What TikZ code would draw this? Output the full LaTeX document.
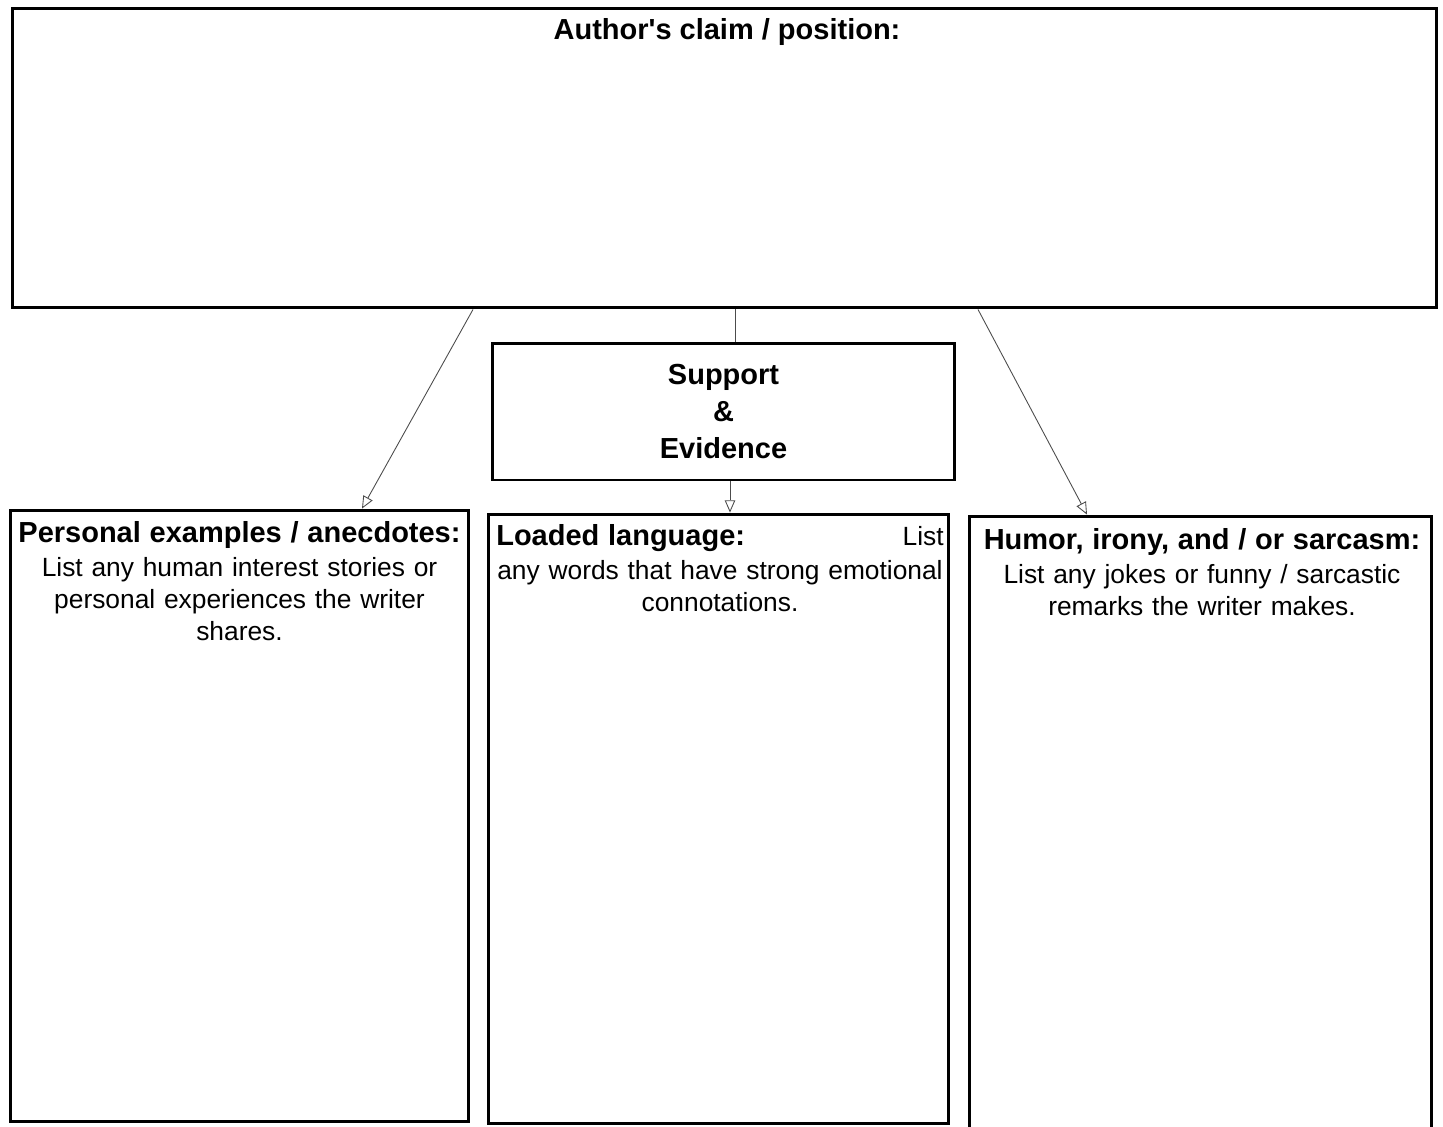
\documentclass[tikz,border=0pt]{standalone}
\usepackage{fontspec}
\usepackage{tikz}
\usetikzlibrary{arrows.meta}
\newfontfamily\chartfont{Liberation Sans}

\begin{document}
\begin{tikzpicture}[x=0.02cm, y=-0.02cm, font=\chartfont,
    box/.style={draw, line width=1.7pt, inner sep=0pt},
    link/.style={gray!60!black, line width=0.5pt},
    tip/.style={-{Triangle[open, length=7pt, width=6pt]}},
    head/.style={font=\chartfont\fontsize{16.5}{21}\selectfont\bfseries},
    body/.style={font=\chartfont\fontsize{15}{18.2}\selectfont, align=center, inner sep=0pt, anchor=north}]
    \useasboundingbox[fill=white] (0,0) rectangle (1443,1126);

    % boxes
    \node (claim) at (724.5,158) [box, minimum width=28.5cm, minimum height=6cm] {};
    \node (support) at (723.5,411.5) [box, head, align=center, minimum width=9.26cm, minimum height=2.74cm] {Support\\\&\\Evidence};
    \node (personal) at (239.5,816) [box, minimum width=9.18cm, minimum height=12.24cm] {};
    \node (loaded) at (718.5,819) [box, minimum width=9.22cm, minimum height=12.2cm] {};
    \node (humor) at (1200.5,823) [box, minimum width=9.26cm, minimum height=12.28cm] {};

    % texts
    \node (claimtext) at (727,18) [head, anchor=north, inner sep=0pt] {Author's claim / position:};
    \node (personaltext) at (239.5,521) [body, text width=9cm] {{\fontsize{16.5}{18}\selectfont\bfseries Personal examples / anecdotes:}\\[1pt] List any human interest stories or\\ personal experiences the writer\\ shares.};
    \node (loadedtext) at (720,524) [body, text width=8.95cm] {\makebox[8.95cm]{{\fontsize{16.5}{18}\selectfont\bfseries Loaded language:}\hfill List}\\[1pt] any words that have strong emotional\\ connotations.};
    \node (humortext) at (1202,528) [body, text width=9cm] {{\fontsize{16.5}{18}\selectfont\bfseries Humor, irony, and / or sarcasm:}\\[1pt] List any jokes or funny / sarcastic\\ remarks the writer makes.};

    % connectors
    \draw[link, tip] (claim.south -| 473,0) to (personal.north -| 362,0);
    \draw[link] (claim.south -| 735,0) to (support.north -| 735,0);
    \draw[link, tip] (support.south -| 730,0) to (loaded.north -| 730,0);
    \draw[link, tip] (claim.south -| 978,0) to (humor.north -| 1087,0);
\end{tikzpicture}
\end{document}
